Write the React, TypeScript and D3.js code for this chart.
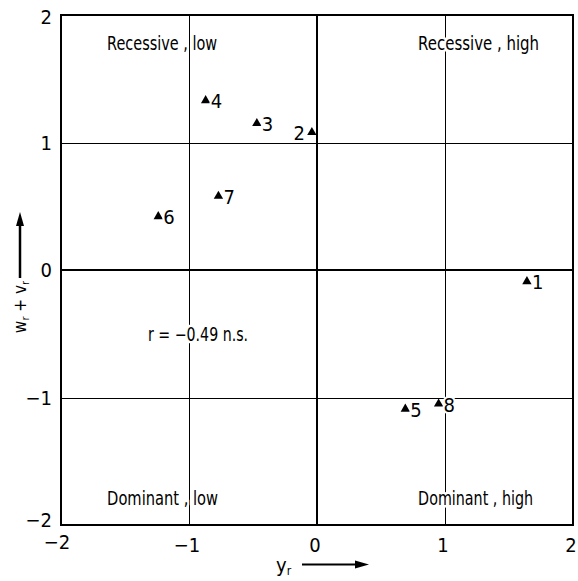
import React from "react";
import * as d3 from "d3";

const pointIds = ["1", "2", "3", "4", "5", "6", "7", "8"];
const xValues = [1.64, -0.04, -0.47, -0.87, 0.69, -1.24, -0.77, 0.95];
const yValues = [-0.09, 1.08, 1.15, 1.33, -1.09, 0.42, 0.58, -1.05];
const labelSide = ["right", "left", "right", "right", "right", "right", "right", "right"];
const tickValues = [-2, -1, 0, 1, 2];
const tickLabels = ["\u22122", "\u22121", "0", "1", "2"];
const quadrantLabels = ["Recessive , low", "Recessive , high", "Dominant , low", "Dominant , high"];
const quadrantX = [-1.64, 0.79, -1.64, 0.79];
const quadrantY = [1.78, 1.78, -1.79, -1.79];
const annotation = "r = \u22120.49 n.s.";

const W = 578;
const H = 581;
const FONT = "'DejaVu Sans Condensed', 'DejaVu Sans', sans-serif";

export default function App() {
  const x = d3.scaleLinear().domain([-2, 2]).range([61, 573]);
  const y = d3.scaleLinear().domain([-2, 2]).range([525, 15]);
  const tri = d3.symbol().type(d3.symbolTriangle).size(38)();
  const c = (v: number) => Math.round(v) + 0.5;
  const qWidths = [110, 121, 111, 115];

  return (
    <svg width={W} height={H} style={{ position: "absolute", left: 0, top: 0, background: "#fff" }}
      fontFamily={FONT}>
      <rect x={0} y={0} width={W} height={H} fill="#fff" />
      {/* grid */}
      {[-1, 1].map((v) => (
        <g key={"g" + v}>
          <line x1={c(x(v))} x2={c(x(v))} y1={y(2)} y2={y(-2)} stroke="#000" strokeWidth={1} />
          <line x1={x(-2)} x2={x(2)} y1={c(y(v))} y2={c(y(v))} stroke="#000" strokeWidth={1} />
        </g>
      ))}
      <line x1={x(0)} x2={x(0)} y1={y(2)} y2={y(-2)} stroke="#000" strokeWidth={2} />
      <line x1={x(-2)} x2={x(2)} y1={y(0)} y2={y(0)} stroke="#000" strokeWidth={2} />
      {/* frame */}
      <rect x={x(-2)} y={y(2)} width={x(2) - x(-2)} height={y(-2) - y(2)} fill="none" stroke="#000" strokeWidth={2} />
      {/* tick labels */}
      {tickValues.map((v, i) => (
        <text key={"xt" + v} x={x(v) + (v === -2 ? -4 : -2)} y={v === -2 ? 549 : 552} textAnchor="middle" fontSize={20}>
          {tickLabels[i]}
        </text>
      ))}
      {tickValues.map((v, i) => (
        <text key={"yt" + v} x={52} y={y(v) + 7 + (v === -2 ? -5 : 0) + (v === 2 ? 2 : 0)} textAnchor="end" fontSize={20}>
          {tickLabels[i]}
        </text>
      ))}
      {/* quadrant labels */}
      {quadrantLabels.map((t, i) => (
        <text key={t} x={x(quadrantX[i])} y={y(quadrantY[i]) + 7} fontSize={19}
          textLength={qWidths[i]} lengthAdjust="spacingAndGlyphs"
          stroke="#fff" strokeWidth={5} paintOrder="stroke" fill="#000">
          {t}
        </text>
      ))}
      <text x={x(-1.32)} y={y(-0.5) + 7} fontSize={19} textLength={100} lengthAdjust="spacingAndGlyphs"
        stroke="#fff" strokeWidth={5} paintOrder="stroke" fill="#000">
        {annotation}
      </text>
      {/* points */}
      {pointIds.map((id, i) => {
        const px = x(xValues[i]);
        const py = y(yValues[i]);
        const right = labelSide[i] === "right";
        return (
          <g key={id}>
            <path d={tri as string} transform={`translate(${px},${py})`} fill="#000" />
            <text x={right ? px + 5 : px - 7} y={py + 8} textAnchor={right ? "start" : "end"} fontSize={20}
              stroke="#fff" strokeWidth={4} paintOrder="stroke" fill="#000">
              {id}
            </text>
          </g>
        );
      })}
      {/* x axis title */}
      <text x={276} y={572} fontSize={20}>
        y<tspan fontSize={12} dy={3}>r</tspan>
      </text>
      <line x1={302} x2={358} y1={564.5} y2={564.5} stroke="#000" strokeWidth={2} />
      <path d="M369,564.5 L355,560.5 L355,568.5 Z" fill="#000" />
      {/* y axis title */}
      <g transform="translate(26,307) rotate(-90)">
        <text x={0} y={0} textAnchor="middle" fontSize={17}>
          w<tspan fontSize={11} dy={3}>r</tspan>
          <tspan dy={-3}> + v</tspan>
          <tspan fontSize={11} dy={3}>r</tspan>
        </text>
      </g>
      <line x1={20} x2={20} y1={278} y2={224} stroke="#000" strokeWidth={2.5} />
      <path d="M20,212 L16,226 L24,226 Z" fill="#000" />
    </svg>
  );
}
